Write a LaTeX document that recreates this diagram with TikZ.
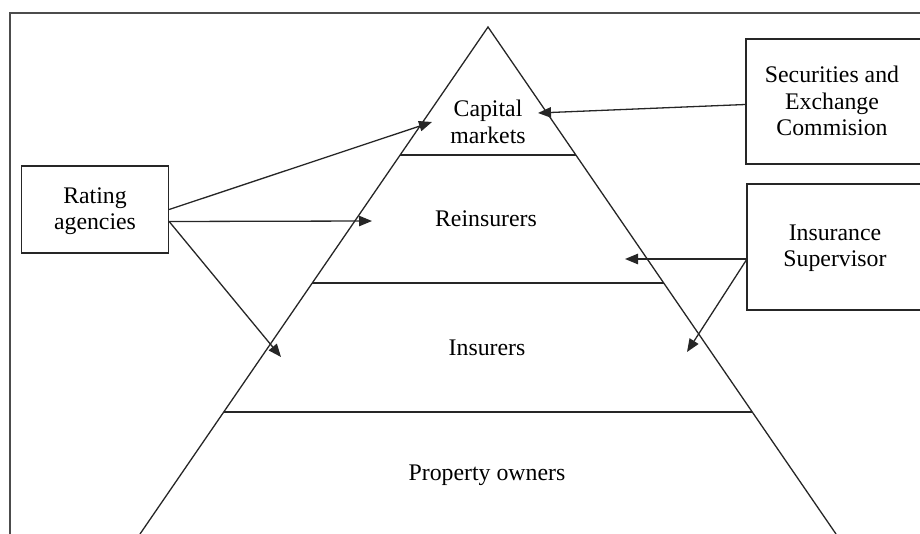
\documentclass[tikz,border=0pt]{standalone}
\usepackage{fontspec}
\setmainfont{Liberation Serif}
\usetikzlibrary{arrows.meta}
\begin{document}
\begin{tikzpicture}[x=0.5pt,y=-0.5pt,
  thinline/.style={line width=0.65pt,draw=black!85},
  boxnode/.style={draw=black!85,line width=0.65pt,rectangle,inner sep=0pt},
  txt/.style={align=center,font=\fontsize{11.9}{13.2}\selectfont,inner sep=0pt},
  arr/.style={thinline,-{Triangle[length=6.5pt,width=5.2pt]}}]
\useasboundingbox (0,0) rectangle (920,534);
\clip (0,0) rectangle (920,534);
% outer frame
\draw[line width=0.8pt,draw=black!70] (10,540) -- (10,13) -- (930,13);
% pyramid
\coordinate (apex) at (488,27);
\coordinate (bl) at (140,534);
\coordinate (br) at (836,534);
\draw[thinline] (bl) -- (apex) -- (br);
\draw[thinline] (400,155) -- (576,155);
\draw[thinline] (312,283) -- (664,283);
\draw[thinline] (224,412) -- (752,412);
% tier labels
\node[txt] (cap) at (488,122) {Capital\\markets};
\node[txt] (rei) at (486,219) {Reinsurers};
\node[txt] (ins) at (487,348) {Insurers};
\node[txt] (own) at (487,475) {Property owners};
% side boxes
\node[boxnode,minimum width=73.5pt,minimum height=43.5pt] (rat) at (95,209.5) {};
\node[txt] at (95,211) {Rating\\agencies};
\node[boxnode,minimum width=92pt,minimum height=62.5pt] (sec) at (838,101.5) {};
\node[txt] at (832,101) {Securities and\\Exchange\\Commision};
\node[boxnode,minimum width=91.5pt,minimum height=63pt] (sup) at (838.5,247) {};
\node[txt] at (835,248) {Insurance\\Supervisor};
% arrow targets
\coordinate (t1) at (432,122);
\coordinate (t2) at (372,221);
\coordinate (t3) at (281,357);
\coordinate (t4) at (538,113);
\coordinate (t5) at (625,259);
\coordinate (t6) at (687,352);
% arrows
\draw[arr] (rat.east) -- (t1);
\draw[arr] ([yshift=-6pt]rat.east) -- (t2);
\draw[arr] ([yshift=-6pt]rat.east) -- (t3);
\draw[arr] ([yshift=-1.5pt]sec.west) -- (t4);
\draw[arr] ([yshift=-6pt]sup.west) -- (t5);
\draw[arr] ([yshift=-6.5pt]sup.west) -- (t6);
\end{tikzpicture}
\end{document}
